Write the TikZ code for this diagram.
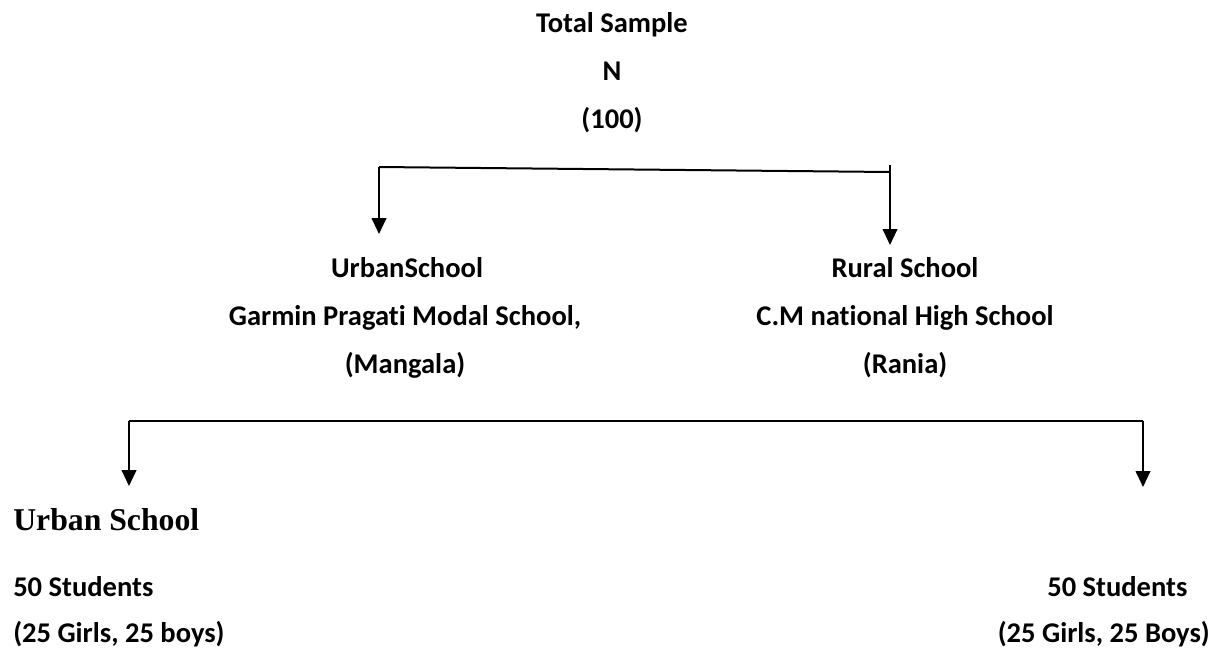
\documentclass[tikz,border=0pt]{standalone}
\usepackage{fontspec}
\setmainfont[Ligatures={NoCommon}]{Carlito}
\newfontfamily\serifbold{Liberation Serif}
\usetikzlibrary{arrows.meta}
\begin{document}
\begin{tikzpicture}[x=0.75pt,y=-0.75pt,
  lbl/.style={font=\bfseries\fontsize{21.4pt}{25pt}\selectfont, inner sep=0pt, anchor=base},
  lbll/.style={lbl, anchor=base west},
  lblr/.style={lbl, anchor=base east},
  bar/.style={line width=1.5pt},
  arr/.style={line width=1.5pt, -{Triangle[width=11pt,length=12pt]}}]
\useasboundingbox (0,0) rectangle (1219,653);
% top
\node[lbl] (total) at (612,32) {Total Sample};
\node[lbl] (n) at (612,80) {N};
\node[lbl] (hundred) at (612,128) {(100)};
% top bar
\coordinate (tl) at (379,167);
\coordinate (tr) at (890,172);
\coordinate (tla) at (379,234);
\coordinate (tra) at (890,245);
\draw[bar] (tl) -- (tr);
\draw[arr] (tl) -- (tla);
\draw[arr] ([yshift=5pt]tr) -- (tra);
% middle
\node[lbl] (urban) at (407,277) {UrbanSchool};
\node[lbl] (garmin) at (405,325) {Garmin Pragati Modal School,};
\node[lbl] (mangala) at (405,373) {(Mangala)};
\node[lbl] (rural) at (905,277) {Rural School};
\node[lbl] (cm) at (905,325) {C.M national High School};
\node[lbl] (rania) at (905,373) {(Rania)};
% bottom bar
\coordinate (bl) at (129,421);
\coordinate (br) at (1143,421);
\coordinate (bla) at (129,486);
\coordinate (bra) at (1143,487);
\draw[bar] (bl) -- (br);
\draw[arr] (bl) -- (bla);
\draw[arr] (br) -- (bra);
% bottom
\node[lbll, font=\serifbold\bfseries\fontsize{23.8pt}{26pt}\selectfont] (us) at (13,530) {Urban School};
\node[lbll] (s1) at (13,596) {50 Students};
\node[lbll] (g1) at (13,642) {(25 Girls, 25 boys)};
\node[lbll] (s2) at (1047,596) {50 Students};
\node[lblr] (g2) at (1210,642) {(25 Girls, 25 Boys)};
\end{tikzpicture}
\end{document}
